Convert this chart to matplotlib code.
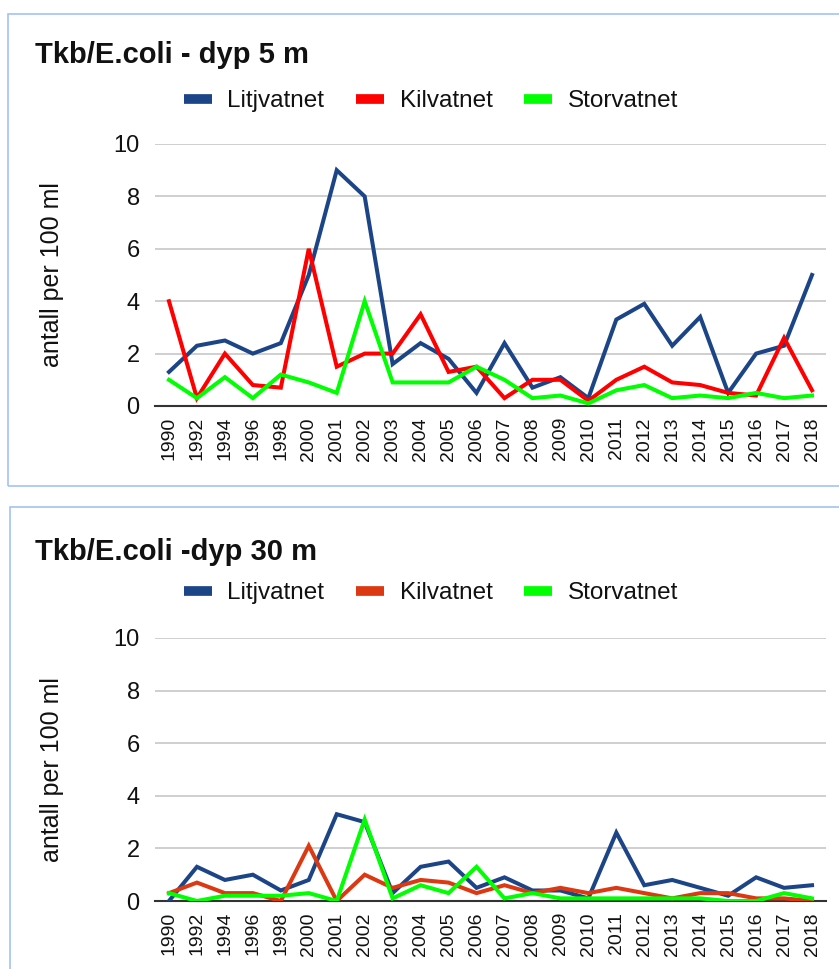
import matplotlib
matplotlib.use("Agg")
import matplotlib.pyplot as plt
from matplotlib.lines import Line2D
from matplotlib.patches import Rectangle

plt.rcParams["font.family"] = ["Liberation Sans", "DejaVu Sans"]

years = ["1990", "1992", "1994", "1996", "1998", "2000", "2001", "2002", "2003",
         "2004", "2005", "2006", "2007", "2008", "2009", "2010", "2011", "2012",
         "2013", "2014", "2015", "2016", "2017", "2018"]
lakes = ["Litjvatnet", "Kilvatnet", "Storvatnet"]

# dyp 5 m
litj_5 = [1.3, 2.3, 2.5, 2.0, 2.4, 5.0, 9.0, 8.0, 1.6, 2.4, 1.8, 0.5, 2.4, 0.7,
          1.1, 0.3, 3.3, 3.9, 2.3, 3.4, 0.5, 2.0, 2.3, 5.0]
kil_5 = [4.0, 0.3, 2.0, 0.8, 0.7, 6.0, 1.5, 2.0, 2.0, 3.5, 1.3, 1.5, 0.3, 1.0,
         1.0, 0.2, 1.0, 1.5, 0.9, 0.8, 0.5, 0.4, 2.6, 0.6]
stor_5 = [1.0, 0.3, 1.1, 0.3, 1.2, 0.9, 0.5, 4.0, 0.9, 0.9, 0.9, 1.5, 1.0, 0.3,
          0.4, 0.1, 0.6, 0.8, 0.3, 0.4, 0.3, 0.5, 0.3, 0.4]

# dyp 30 m
litj_30 = [0.0, 1.3, 0.8, 1.0, 0.4, 0.8, 3.3, 3.0, 0.3, 1.3, 1.5, 0.5, 0.9, 0.4,
           0.4, 0.1, 2.6, 0.6, 0.8, 0.5, 0.2, 0.9, 0.5, 0.6]
kil_30 = [0.3, 0.7, 0.3, 0.3, 0.0, 2.1, 0.0, 1.0, 0.5, 0.8, 0.7, 0.3, 0.6, 0.3,
          0.5, 0.3, 0.5, 0.3, 0.1, 0.3, 0.3, 0.1, 0.1, 0.0]
stor_30 = [0.3, 0.0, 0.2, 0.2, 0.2, 0.3, 0.0, 3.1, 0.1, 0.6, 0.3, 1.3, 0.1, 0.3,
           0.1, 0.1, 0.1, 0.1, 0.1, 0.1, 0.0, 0.0, 0.3, 0.1]

W, H = 839, 969
fig = plt.figure(figsize=(W / 100, H / 100), dpi=100)

border = "#a4c2f4"
fig.patches.append(Rectangle((8 / W, 1 - 486 / H), 1.0, 472 / H, transform=fig.transFigure,
                             fill=False, edgecolor=border, linewidth=1.2))
fig.patches.append(Rectangle((10 / W, -0.1), 1.0, 1 - 507 / H + 0.1, transform=fig.transFigure,
                             fill=False, edgecolor=border, linewidth=1.2))


def panel(top_px, bottom_px, title, title_y, legend_y, series, colors):
    ax = fig.add_axes([155 / W, 1 - bottom_px / H, 671 / W, (bottom_px - top_px) / H])
    x = range(len(years))
    for vals, c, name in zip(series, colors, lakes):
        ax.plot(x, vals, color=c, linewidth=2.9, label=name, solid_joinstyle="miter")
    ax.set_xlim(-0.5, len(years) - 0.5)
    ax.set_ylim(0, 10)
    ax.set_yticks([0, 2, 4, 6, 8, 10])
    ax.set_xticks(list(x))
    ax.set_xticklabels(years, rotation=90)
    ax.tick_params(axis="y", length=0, pad=11, labelsize=17, labelcolor="#111111")
    ax.tick_params(axis="x", length=0, pad=8, labelsize=14, labelcolor="#111111")
    ax.grid(axis="y", color="#cccccc", linewidth=1.3)
    ax.set_axisbelow(True)
    for s in ["top", "right", "left"]:
        ax.spines[s].set_visible(False)
    ax.spines["bottom"].set_color("#333333")
    ax.spines["bottom"].set_linewidth(1.5)
    ax.spines["bottom"].set_zorder(1.5)
    fig.text(52 / W, 1 - (top_px + bottom_px) / 2 / H, "antall per 100 ml", rotation=90,
             ha="center", va="center", fontsize=18, color="#111111")
    fig.text(35 / W, 1 - title_y / H, title, fontsize=21, fontweight="bold",
             ha="left", va="center", color="#111111")
    handles = [Line2D([], [], color=c, linewidth=7, solid_capstyle="butt") for c in colors]
    fig.legend(handles, lakes, loc="center", bbox_to_anchor=(431 / W, 1 - legend_y / H),
               ncol=3, frameon=False, fontsize=17.5, handlelength=1.15, handletextpad=0.65,
               columnspacing=1.3, labelcolor="#111111")
    return ax


panel(144, 406, "Tkb/E.coli - dyp 5 m", 55, 101,
      [litj_5, kil_5, stor_5], ["#1c4587", "#ff0000", "#00ff00"])
panel(638, 901, "Tkb/E.coli -dyp 30 m", 552, 593,
      [litj_30, kil_30, stor_30], ["#1c4587", "#dc3912", "#00ff00"])

fig.savefig("out.png", dpi=100)
